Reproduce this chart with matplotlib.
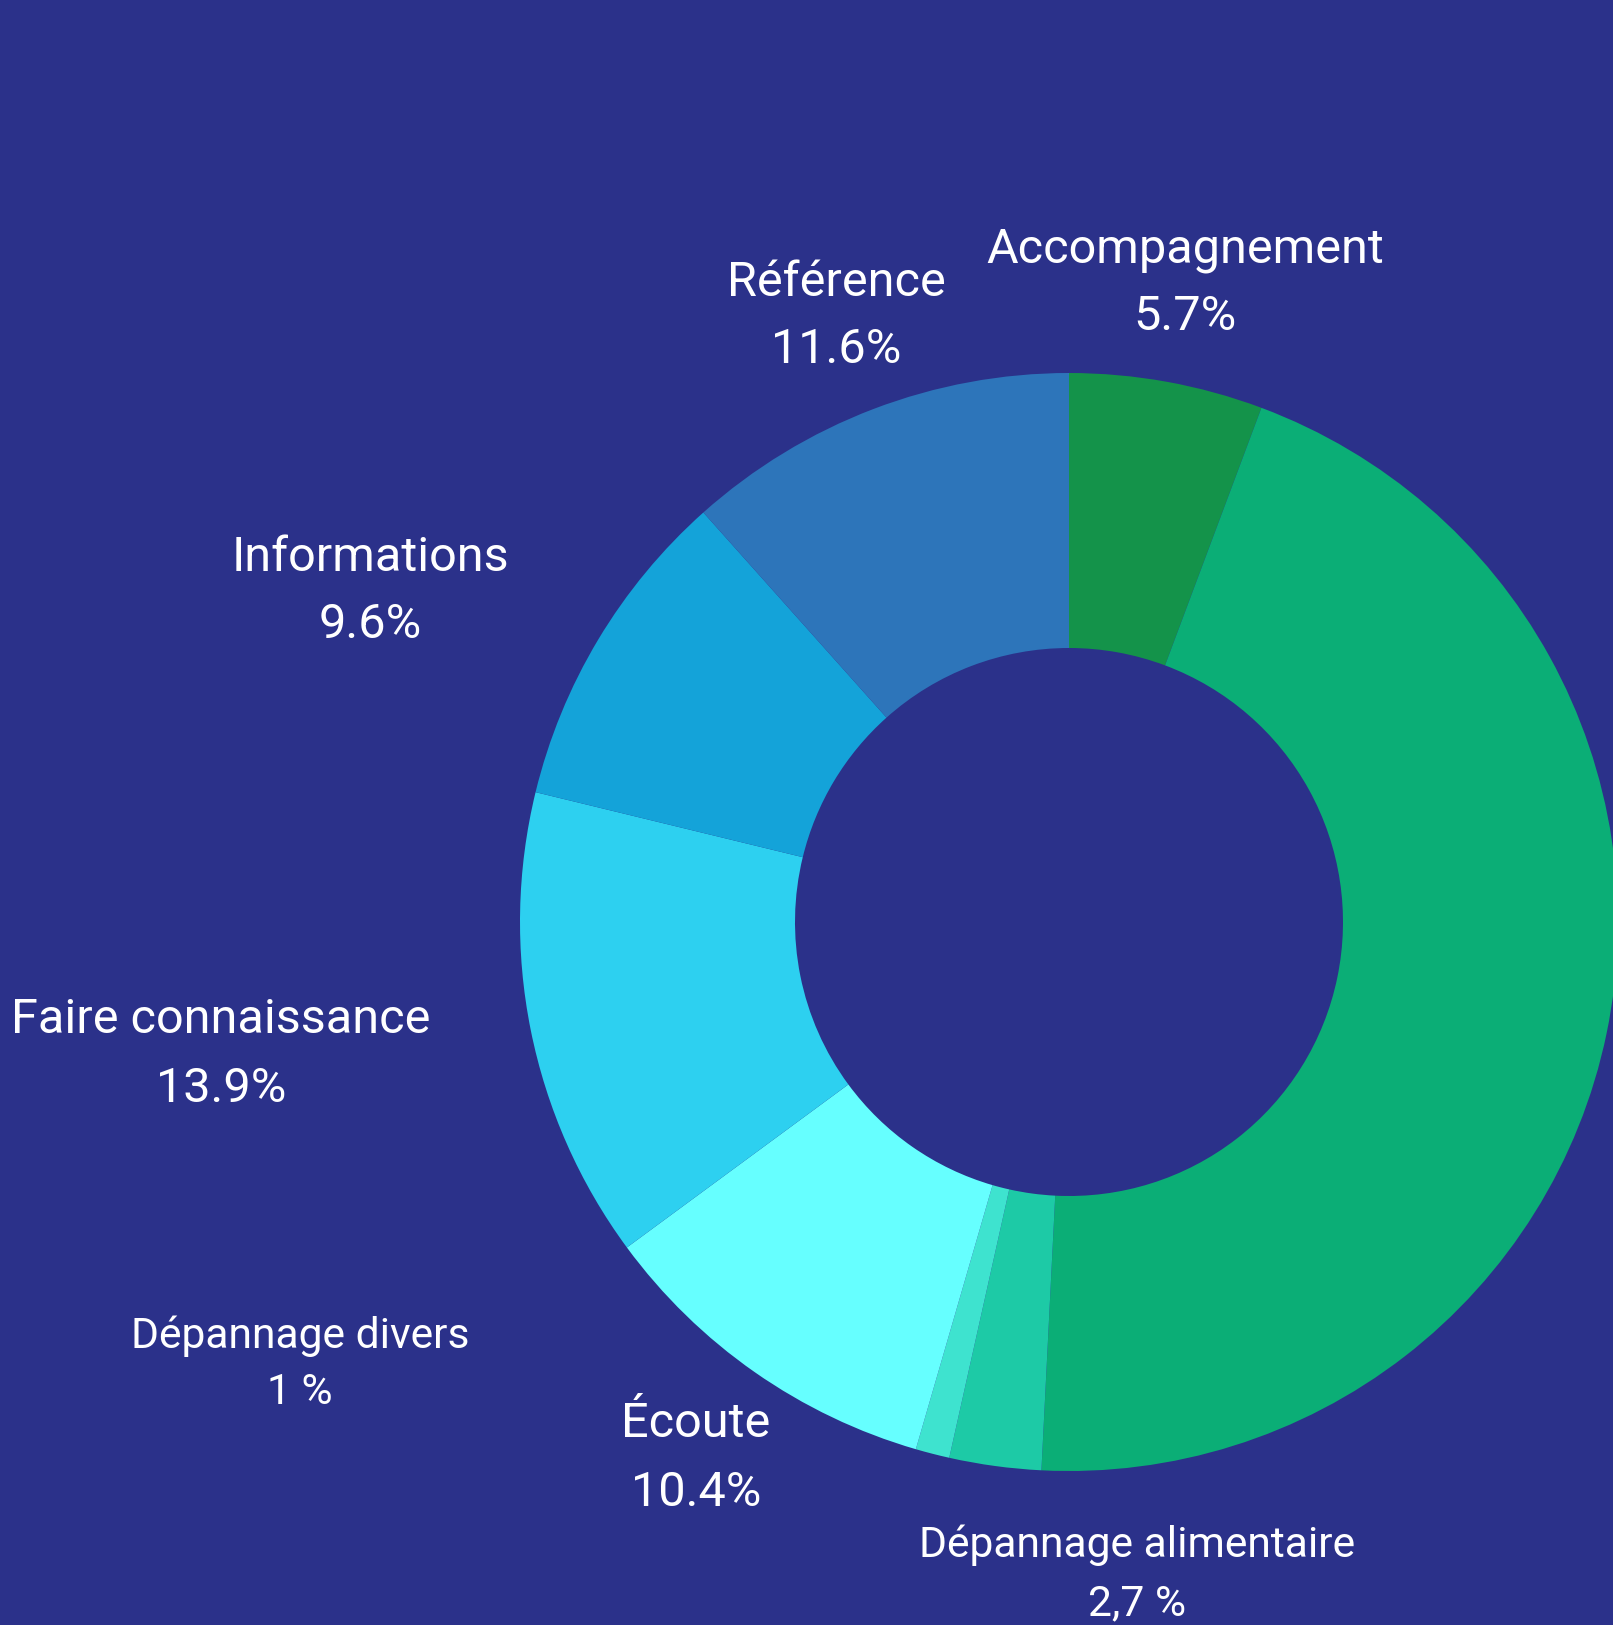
import matplotlib
matplotlib.use("Agg")
import matplotlib.pyplot as plt

# Share of each service, clockwise from the top
categories = ["Accompagnement", "Autres", "Dépannage alimentaire", "Dépannage divers",
              "Écoute", "Faire connaissance", "Informations", "Référence"]
values = [5.7, 45.1, 2.7, 1.0, 10.4, 13.9, 9.6, 11.6]
pct_labels = ["5.7%", None, "2,7 %", "1 %", "10.4%", "13.9%", "9.6%", "11.6%"]
colors = ["#14934a", "#0bae76", "#1dcaa6", "#3ee3cf",
          "#66ffff", "#2dd0f0", "#14a3d9", "#2d75ba"]

BG = "#2b318a"
W, H = 1613, 1625

fig = plt.figure(figsize=(W / 100, H / 100), dpi=100, facecolor=BG)
ax = fig.add_axes([0, 0, 1, 1])
ax.set_facecolor(BG)

cx, cy, r = 1069, H - 922, 549
ax.pie(values, colors=colors, startangle=90, counterclock=False,
       center=(cx, cy), radius=r, frame=True,
       wedgeprops=dict(width=r - 274, linewidth=0))
ax.set_xlim(0, W)
ax.set_ylim(0, H)
ax.set_aspect("equal")
ax.axis("off")

# label placement (pixel positions of each label block, name then value)
label_pos = {
    "Accompagnement": (1185, 250, 317, 35),
    "Référence": (836, 283, 350, 35),
    "Informations": (370, 558, 625, 35),
    "Faire connaissance": (221, 1020, 1089, 35),
    "Dépannage divers": (300, 1336, 1393, 30.7),
    "Écoute": (696, 1424, 1493, 35),
    "Dépannage alimentaire": (1137, 1545, 1604, 30.7),
}
for name, pct in zip(categories, pct_labels):
    if pct is None:
        continue
    x, y1, y2, fs = label_pos[name]
    ax.text(x, H - y1, name, color="white", fontsize=fs, family="Roboto",
            ha="center", va="center")
    ax.text(x, H - y2, pct, color="white", fontsize=fs, family="Roboto",
            ha="center", va="center")

fig.savefig("out.png", dpi=100, facecolor=BG)
